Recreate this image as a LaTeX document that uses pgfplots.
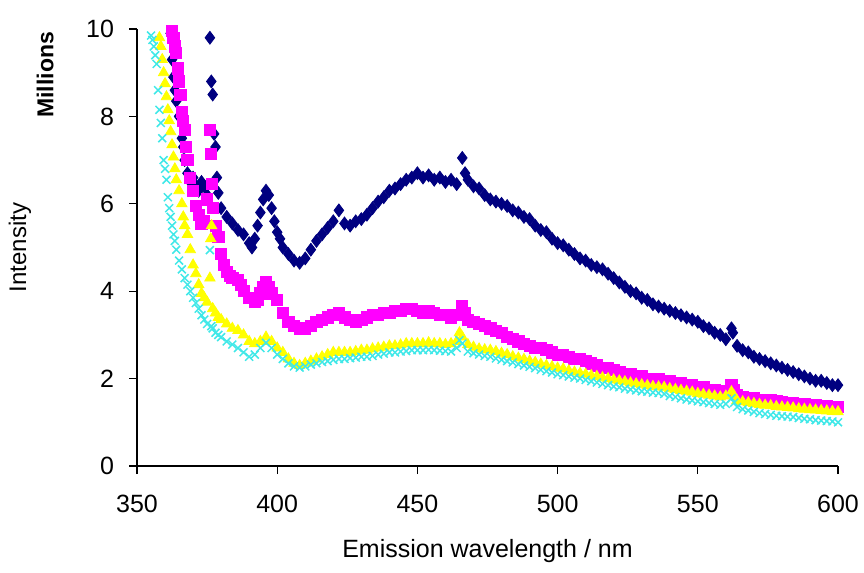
\documentclass[border=0pt]{standalone}
\usepackage{fontspec}
\setmainfont{Liberation Sans}
\usepackage{pgfplots}
\pgfplotsset{compat=1.18}
\usetikzlibrary{calc}
\definecolor{navyS}{RGB}{0,0,128}
\definecolor{magS}{RGB}{255,0,255}
\definecolor{yelS}{RGB}{255,255,0}
\definecolor{cyaS}{RGB}{64,232,232}
\begin{document}
\begin{tikzpicture}
\begin{axis}[
    name=ax,
    scale only axis,
    width=350.5pt, height=218.5pt,
    xmin=350, xmax=600,
    ymin=0, ymax=10,
    xtick={350,400,...,600},
    ytick={0,2,...,10},
    axis x line*=bottom,
    axis y line*=left,
    axis line style={black, line width=0.6pt},
    tick align=outside,
    major tick length=4pt,
    tick style={black, line width=0.6pt},
    clip=false,
    font=\fontsize{12.5}{14}\selectfont,
    /pgf/number format/assume math mode=true,
    xticklabel style={yshift=-7pt},
    yticklabel style={xshift=-4pt},
    xlabel={Emission wavelength / nm},
    xlabel style={at={(axis description cs:0.5,-0.195)}, anchor=center},
    ylabel={Intensity},
    ylabel style={at={(axis description cs:-0.167,0.5)}, anchor=center, font=\fontsize{12}{14}\selectfont},
]
\node[rotate=90, font=\fontsize{11.5}{13}\selectfont\bfseries] at (axis description cs:-0.131,0.895) {Millions};

% navy diamonds
\addplot[only marks, mark=diamond*, mark size=3.2pt, color=navyS] coordinates {
(362,9.9)(362.5,9.3)(363,8.9)(363.5,8.6)(364,8.35)(365,8.0)(366,7.5)(366.5,7.3)(367,7.0)(368,6.7)
(369,6.5)(370,6.6)(371,6.4)(372,6.3)(373,6.5)(374,6.4)(375,6.2)(376,9.8)(376.5,8.8)(377,8.5)
(377.5,7.6)(378,7.3)(378.5,6.6)(379,6.25)
(380,5.9)(382,5.7)(384,5.55)(386,5.4)(388,5.3)(390,5.1)(391,5.0)(392,5.2)(393,5.5)(394,5.8)
(395,6.1)(396,6.3)(397,6.2)(398,5.9)(399,5.6)(400,5.35)(401,5.2)(402,5.0)(404,4.85)(406,4.7)
(408,4.65)(410,4.75)(412,4.95)(414,5.15)(416,5.3)(418,5.45)(420,5.6)(422,5.85)(424,5.55)(426,5.5)
(428,5.6)(430,5.65)(432,5.75)(434,5.9)(436,6.05)(438,6.15)(440,6.3)(442,6.35)(444,6.45)(446,6.55)
(448,6.6)(450,6.7)(452,6.6)(454,6.65)(456,6.55)(458,6.6)(460,6.5)(462,6.55)(464,6.45)(466,7.05)
(467,6.7)(468,6.55)(470,6.4)(472,6.35)(474,6.2)(476,6.1)(478,6.05)(480,6.0)(482,5.95)(484,5.85)
(486,5.8)(488,5.7)(490,5.65)(492,5.5)(494,5.4)(496,5.35)(498,5.2)(500,5.1)(502,5.05)(504,4.95)
(506,4.85)(508,4.75)(510,4.7)(512,4.6)(514,4.55)(516,4.5)(518,4.4)(520,4.3)(522,4.2)(524,4.1)
(526,4.0)(528,3.95)(530,3.85)(532,3.8)(534,3.7)(536,3.65)(538,3.6)(540,3.55)(542,3.5)(544,3.45)
(546,3.4)(548,3.35)(550,3.3)(552,3.2)(554,3.15)(556,3.05)(558,3.0)(560,2.9)(562,3.15)(562.5,3.05)
(564,2.75)(566,2.65)(568,2.6)(570,2.5)(572,2.45)(574,2.4)(576,2.35)(578,2.3)(580,2.25)(582,2.2)
(584,2.15)(586,2.1)(588,2.05)(590,2.0)(592,1.95)(594,1.95)(596,1.9)(598,1.85)(600,1.85)
};

% magenta squares
\addplot[only marks, mark=square*, mark size=2.8pt, color=magS] coordinates {
(362.5,9.95)(363,9.8)(363.5,9.6)(364,9.45)(364.5,9.1)(365,8.8)(365.5,8.5)(366,8.1)(366.5,7.9)(367,7.7)
(367.5,7.3)(368,7.0)(369,6.6)(370,6.3)(371,5.95)(372,5.75)(373,5.55)(374,5.6)(375,6.1)(376,7.7)
(376.3,7.15)(376.6,6.45)(377,5.9)(378,5.5)(379,5.25)(380,4.85)(381,4.6)(382,4.45)(383,4.35)(384,4.3)
(386,4.25)(387,4.15)(388,4.0)(390,3.85)(392,3.75)(393,3.8)(394,3.95)(395,4.1)(396,4.2)(397,4.1)
(398,3.95)(400,3.8)(402,3.5)(404,3.3)(406,3.2)(408,3.15)(410,3.15)(412,3.2)(414,3.3)(416,3.35)
(418,3.4)(420,3.45)(422,3.5)(424,3.4)(426,3.35)(428,3.3)(430,3.35)(432,3.4)(434,3.45)(436,3.45)
(438,3.5)(440,3.5)(442,3.55)(444,3.55)(446,3.6)(448,3.6)(450,3.55)(452,3.5)(454,3.55)(456,3.5)
(458,3.45)(460,3.45)(462,3.4)(464,3.45)(466,3.65)(467,3.5)(468,3.35)(470,3.3)(472,3.25)(474,3.2)
(476,3.15)(478,3.1)(480,3.05)(482,2.95)(484,2.9)(486,2.85)(488,2.8)(490,2.75)(492,2.7)(494,2.7)
(496,2.65)(498,2.6)(500,2.55)(502,2.55)(504,2.5)(506,2.45)(508,2.45)(510,2.4)(512,2.35)(514,2.3)
(516,2.25)(518,2.25)(520,2.2)(522,2.15)(524,2.1)(526,2.1)(528,2.05)(530,2.05)(532,2.0)(534,2.0)
(536,2.0)(538,1.95)(540,1.95)(542,1.9)(544,1.9)(546,1.85)(548,1.85)(550,1.8)(552,1.8)(554,1.75)
(556,1.75)(558,1.7)(560,1.72)(562,1.85)(563,1.75)(564,1.62)(566,1.58)(568,1.55)(570,1.55)(572,1.52)
(574,1.5)(576,1.5)(578,1.48)(580,1.47)(582,1.45)(584,1.44)(586,1.42)(588,1.42)(590,1.4)(592,1.4)
(594,1.38)(596,1.37)(598,1.36)(600,1.35)
};

% yellow triangles
\addplot[only marks, mark=triangle*, mark size=3pt, color=yelS] coordinates {
(358,9.8)(358.5,9.6)(359,9.3)(359.5,9.0)(360,8.75)(360.5,8.45)(361,8.15)(361.5,7.9)(362,7.65)(362.5,7.35)
(363,7.07)(363.5,6.8)(364,6.55)(365,6.3)(366,6.0)(366.5,5.7)(367,5.5)(368,5.3)(369,4.95)(370,4.6)
(371,4.4)(372,4.15)(373,3.95)(374,3.85)(375,3.75)(376,4.3)(376.3,5.2)(376.6,5.5)(377,3.6)(378,3.5)
(379,3.4)(380,3.35)(382,3.25)(384,3.15)(386,3.1)(388,3.0)(390,2.85)(392,2.8)(394,2.85)(396,2.95)
(398,2.85)(400,2.7)(402,2.6)(404,2.45)(406,2.35)(408,2.3)(410,2.35)(412,2.4)(414,2.45)(416,2.5)
(418,2.55)(420,2.6)(422,2.6)(424,2.6)(426,2.6)(428,2.62)(430,2.65)(432,2.65)(434,2.68)(436,2.7)
(438,2.72)(440,2.75)(442,2.75)(444,2.77)(446,2.8)(448,2.8)(450,2.8)(452,2.8)(454,2.82)(456,2.8)
(458,2.8)(460,2.78)(462,2.8)(464,2.85)(465,3.05)(466,2.95)(468,2.78)(470,2.72)(472,2.68)(474,2.66)
(476,2.65)(478,2.62)(480,2.58)(482,2.55)(484,2.5)(486,2.47)(488,2.44)(490,2.4)(492,2.37)(494,2.33)
(496,2.3)(498,2.27)(500,2.24)(502,2.22)(504,2.18)(506,2.15)(508,2.12)(510,2.1)(512,2.07)(514,2.05)
(516,2.02)(518,2.0)(520,1.97)(522,1.95)(524,1.93)(526,1.9)(528,1.88)(530,1.86)(532,1.84)(534,1.82)
(536,1.81)(538,1.8)(540,1.77)(542,1.75)(544,1.73)(546,1.71)(548,1.69)(550,1.66)(552,1.64)(554,1.62)
(556,1.6)(558,1.58)(560,1.6)(562,1.7)(563,1.6)(564,1.5)(566,1.47)(568,1.45)(570,1.43)(572,1.41)
(574,1.39)(576,1.38)(578,1.36)(580,1.35)(582,1.34)(584,1.33)(586,1.31)(588,1.3)(590,1.29)(592,1.28)
(594,1.27)(596,1.26)(598,1.25)(600,1.24)
};

% cyan crosses
\addplot[only marks, mark=x, mark size=2.8pt, line width=0.75pt, color=cyaS] coordinates {
(355,9.85)(355.5,9.75)(356,9.6)(356.5,9.4)(357,9.2)(357.5,8.6)(358,8.15)(358.5,7.85)(359,7.5)(359.5,7.0)
(360,6.8)(360.5,6.55)(361,6.15)(361.5,5.9)(362,5.7)(362.5,5.5)(363,5.3)(363.5,5.15)(364,4.95)(365,4.7)
(366,4.5)(367,4.3)(368,4.15)(369,4.0)(370,3.85)(371,3.73)(372,3.6)(373,3.45)(374,3.35)(375,3.25)
(376,4.94)(376.5,3.2)(377,3.15)(378,3.05)(379,3.0)(380,2.95)(382,2.85)(384,2.78)(386,2.7)(388,2.6)
(390,2.5)(392,2.55)(394,2.7)(396,2.82)(398,2.7)(400,2.55)(402,2.45)(404,2.35)(406,2.28)(408,2.25)
(410,2.28)(412,2.32)(414,2.35)(416,2.38)(418,2.4)(420,2.43)(422,2.45)(424,2.45)(426,2.47)(428,2.48)
(430,2.5)(432,2.5)(434,2.52)(436,2.55)(438,2.57)(440,2.6)(442,2.6)(444,2.62)(446,2.63)(448,2.65)
(450,2.65)(452,2.65)(454,2.66)(456,2.65)(458,2.64)(460,2.63)(462,2.62)(464,2.7)(465,2.88)(466,2.8)
(468,2.62)(470,2.58)(472,2.55)(474,2.52)(476,2.5)(478,2.46)(480,2.43)(482,2.4)(484,2.37)(486,2.33)
(488,2.3)(490,2.27)(492,2.24)(494,2.2)(496,2.17)(498,2.14)(500,2.1)(502,2.08)(504,2.05)(506,2.02)
(508,2.0)(510,1.97)(512,1.94)(514,1.91)(516,1.88)(518,1.85)(520,1.82)(522,1.8)(524,1.77)(526,1.75)
(528,1.73)(530,1.71)(532,1.7)(534,1.68)(536,1.67)(538,1.65)(540,1.6)(542,1.58)(544,1.55)(546,1.52)
(548,1.5)(550,1.48)(552,1.46)(554,1.44)(556,1.42)(558,1.4)(560,1.42)(562,1.55)(563,1.45)(564,1.35)
(566,1.3)(568,1.27)(570,1.24)(572,1.21)(574,1.19)(576,1.17)(578,1.15)(580,1.14)(582,1.13)(584,1.12)
(586,1.1)(588,1.08)(590,1.07)(592,1.05)(594,1.04)(596,1.03)(598,1.02)(600,1.0)
};
\end{axis}
\pgfresetboundingbox
\path ($(ax.south west)+(-68.5pt,-53pt)$) rectangle ($(ax.north east)+(13pt,14.5pt)$);
\end{tikzpicture}
\end{document}
